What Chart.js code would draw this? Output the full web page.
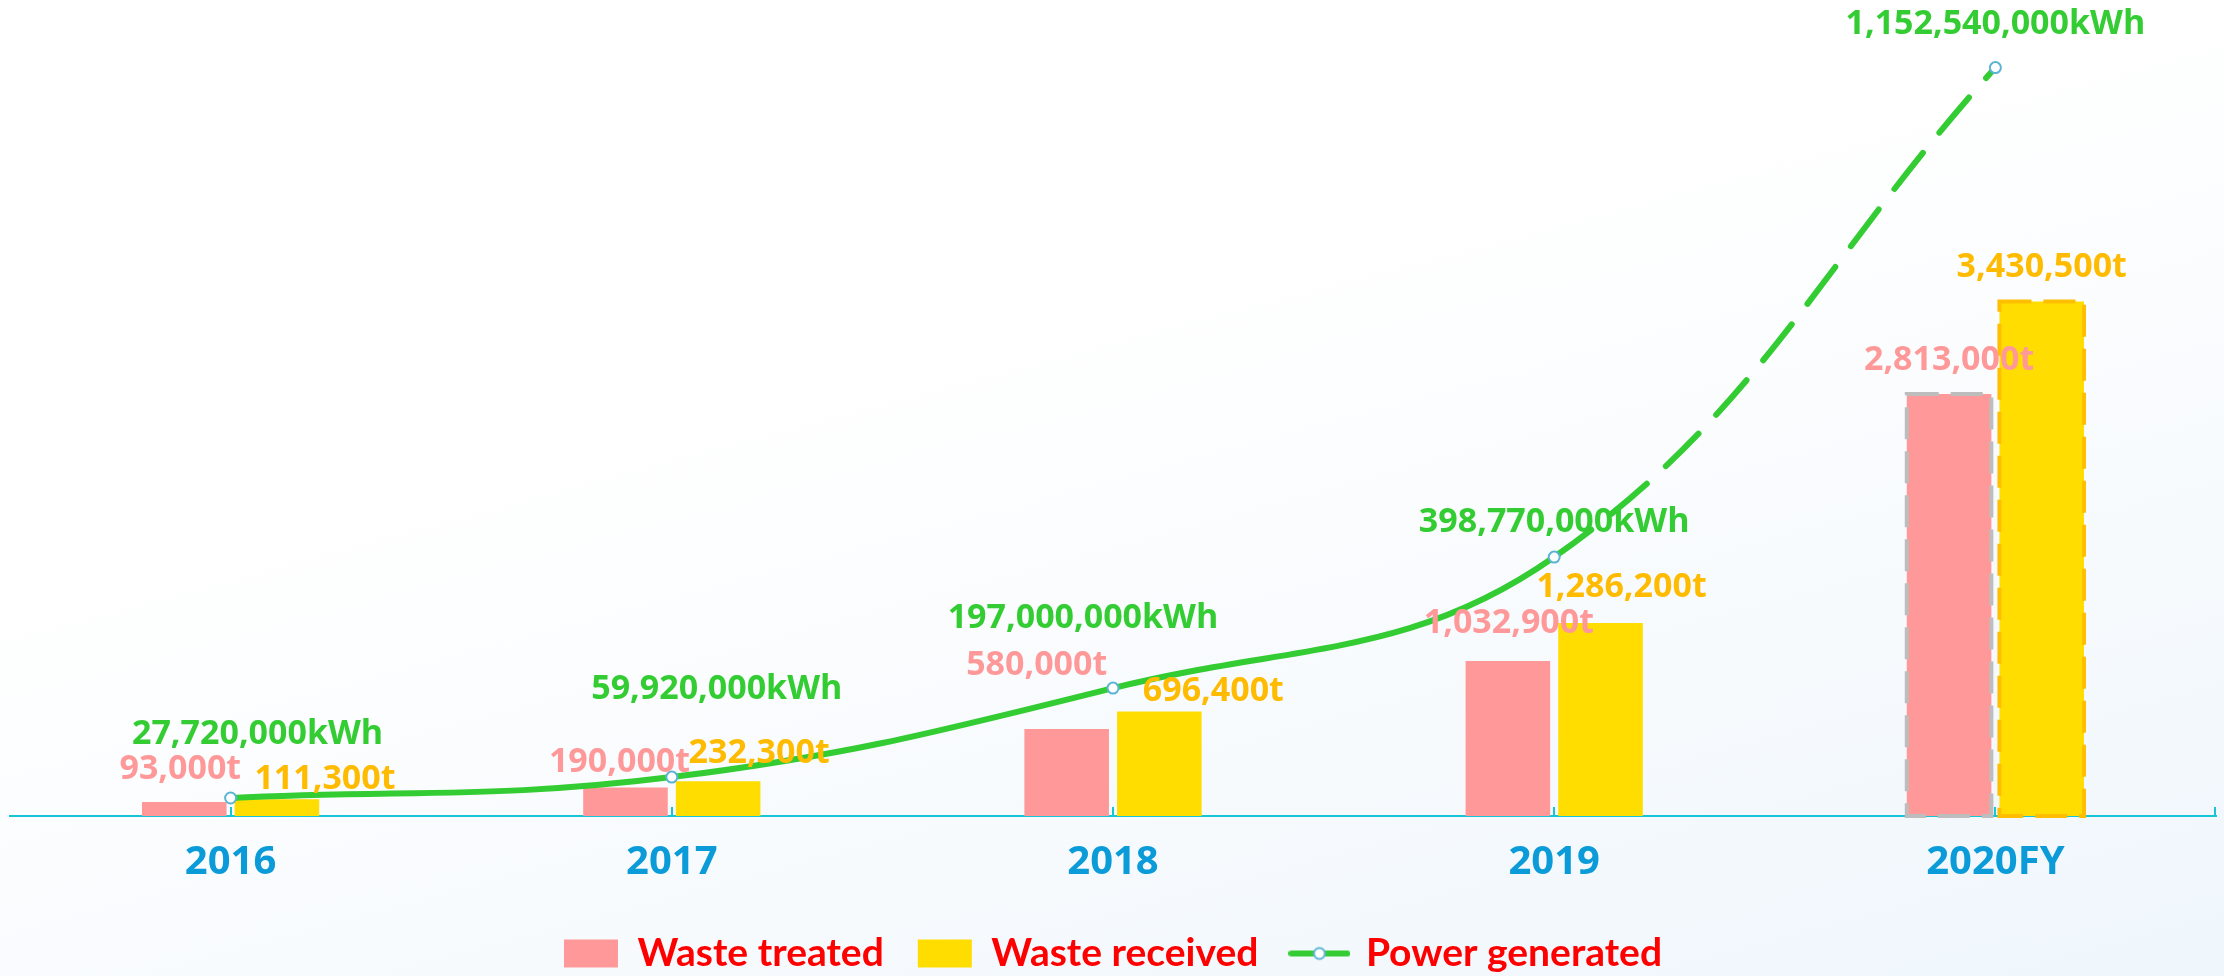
<!DOCTYPE html>
<html>
<head>
<meta charset="utf-8">
<script src="https://cdn.jsdelivr.net/npm/chart.js@4.4.0/dist/chart.umd.min.js"></script>
<style>
html, body { margin: 0; padding: 0; }
body { width: 2224px; height: 976px; overflow: hidden; background: linear-gradient(165deg, #ffffff 38%, #eff6fc 100%); }
#wrap { position: relative; width: 2224px; height: 976px; }
</style>
</head>
<body>
<div id="wrap"><canvas id="myChart"></canvas></div>
<script>
var Anios = ['2016', '2017', '2018', '2019', '2020FY'];
var Tratado = [93000, 190000, 580000, 1032900, 2813000];
var Recibido = [111300, 232300, 696400, 1286200, 3430500];
var Energia = [27720000, 59920000, 197000000, 398770000, 1152540000];
var Series = ['Waste treated', 'Waste received', 'Power generated'];
var Unidades = ['t', 't', 'kWh'];

// where each value label sits, relative to the bar top / point: [dx, dy up]
var Desfase = [
    [[-4, 33], [-6, 25], [-30, 64], [1, 38], [0, 34]],
    [[48, 20], [41, 28], [54, 20], [21, 36], [0, 34]],
    [[27, 64], [45, 88], [-30, 70], [0, 35], [0, 43]]
];
var ColoresTexto = ['#ff9999', '#ffbb00', '#33cc33'];
var ColoresBorde = ['#bdbdbd', '#ffbf00'];
var ColorEje = '#16c6d6';

var iconoLinea = document.createElement('canvas');
iconoLinea.width = 62;
iconoLinea.height = 16;
var ic = iconoLinea.getContext('2d');
ic.strokeStyle = '#33cc33';
ic.lineWidth = 6;
ic.lineCap = 'round';
ic.beginPath();
ic.moveTo(3, 8);
ic.lineTo(59, 8);
ic.stroke();
ic.beginPath();
ic.arc(31, 8, 5.5, 0, Math.PI * 2);
ic.fillStyle = '#ffffff';
ic.fill();
ic.lineWidth = 2;
ic.strokeStyle = '#5ab4d4';
ic.stroke();

var marcasEje = {
    id: 'marcasEje',
    beforeDatasetsDraw: function(chart)
    {
        var ctx = chart.ctx;
        var escala = chart.scales.x;
        var y0 = chart.chartArea.bottom;
        var xs = [];
        for (var i = 0; i < Anios.length; i++)
        {
            xs.push(Math.round(escala.getPixelForValue(i)));
        }
        xs.push(Math.round(chart.chartArea.right) - 1);
        ctx.save();
        ctx.strokeStyle = ColorEje;
        ctx.lineWidth = 2;
        ctx.beginPath();
        xs.forEach(function(px)
        {
            ctx.moveTo(px, y0);
            ctx.lineTo(px, y0 - 9);
        });
        ctx.stroke();
        ctx.restore();
    }
};

var bordePunteado = {
    id: 'bordePunteado',
    afterDatasetDraw: function(chart, args)
    {
        if (args.index > 1) return;
        var barra = args.meta.data[4];
        var p = barra.getProps(['x', 'y', 'base', 'width'], true);
        var ctx = chart.ctx;
        ctx.save();
        ctx.setLineDash([32, 12]);
        ctx.lineWidth = 4;
        ctx.strokeStyle = ColoresBorde[args.index];
        ctx.strokeRect(p.x - p.width / 2, p.y, p.width, p.base - p.y);
        ctx.restore();
    }
};

var etiquetas = {
    id: 'etiquetas',
    afterDatasetsDraw: function(chart)
    {
        var ctx = chart.ctx;
        ctx.save();
        ctx.font = 'bold 34px "Open Sans"';
        ctx.textAlign = 'center';
        ctx.textBaseline = 'middle';
        for (var d = 0; d < 3; d++)
        {
            var meta = chart.getDatasetMeta(d);
            var datos = chart.data.datasets[d].data;
            ctx.fillStyle = ColoresTexto[d];
            for (var i = 0; i < meta.data.length; i++)
            {
                var el = meta.data[i];
                var texto = datos[i].toLocaleString('en-US') + Unidades[d];
                ctx.fillText(texto, el.x + Desfase[d][i][0], el.y - Desfase[d][i][1]);
            }
        }
        ctx.restore();
    }
};

function Grafica()
{
    var ctx = document.getElementById('myChart').getContext('2d');
    var chart = new Chart(ctx, {
        type: 'bar',
        data: {
            labels: Anios,
            datasets: [
                {
                    label: Series[0],
                    data: Tratado,
                    backgroundColor: '#ff9999',
                    yAxisID: 'y',
                    order: 1,
                    categoryPercentage: 0.42,
                    barPercentage: 0.913
                },
                {
                    label: Series[1],
                    data: Recibido,
                    backgroundColor: '#ffdd00',
                    yAxisID: 'y',
                    order: 2,
                    categoryPercentage: 0.42,
                    barPercentage: 0.913
                },
                {
                    type: 'line',
                    label: Series[2],
                    data: Energia,
                    yAxisID: 'y1',
                    order: 0,
                    borderColor: '#33cc33',
                    backgroundColor: '#33cc33',
                    borderWidth: 6,
                    borderCapStyle: 'round',
                    tension: 0.4,
                    pointRadius: 5.5,
                    pointBorderWidth: 2,
                    pointBorderColor: '#5ab4d4',
                    pointBackgroundColor: '#ffffff',
                    clip: false,
                    segment: {
                        borderDash: function(c) { return c.p0DataIndex === 3 ? [46, 26] : undefined; }
                    }
                }
            ]
        },
        options: {
            responsive: true,
            maintainAspectRatio: false,
            animation: false,
            layout: { padding: { top: 66, left: 10, right: 8, bottom: -7 } },
            scales: {
                x: {
                    offset: true,
                    grid: { display: false, drawTicks: false },
                    border: { display: true, color: ColorEje, width: 2 },
                    ticks: {
                        color: '#0a9bd8',
                        padding: 23,
                        font: { family: 'Open Sans', weight: 'bold', size: 40 }
                    },
                    afterFit: function(s) { s.height = 84; }
                },
                y: { display: false, min: 0, max: 5000000 },
                y1: { display: false, min: 0, max: 1155000000 }
            },
            plugins: {
                tooltip: { enabled: false },
                legend: {
                    position: 'bottom',
                    labels: {
                        usePointStyle: true,
                        pointStyleWidth: 54,
                        boxHeight: 28,
                        padding: 34,
                        color: '#ff0000',
                        font: { family: 'Lato', weight: 'bold', size: 39 },
                        sort: function(a, b) { return a.datasetIndex - b.datasetIndex; },
                        generateLabels: function(chart)
                        {
                            var items = Chart.defaults.plugins.legend.labels.generateLabels(chart);
                            items.forEach(function(it)
                            {
                                it.pointStyle = it.datasetIndex === 2 ? iconoLinea : 'rect';
                                it.lineWidth = 0;
                            });
                            return items;
                        }
                    }
                }
            }
        },
        plugins: [marcasEje, bordePunteado, etiquetas]
    });
}

Grafica();
</script>
</body>
</html>
